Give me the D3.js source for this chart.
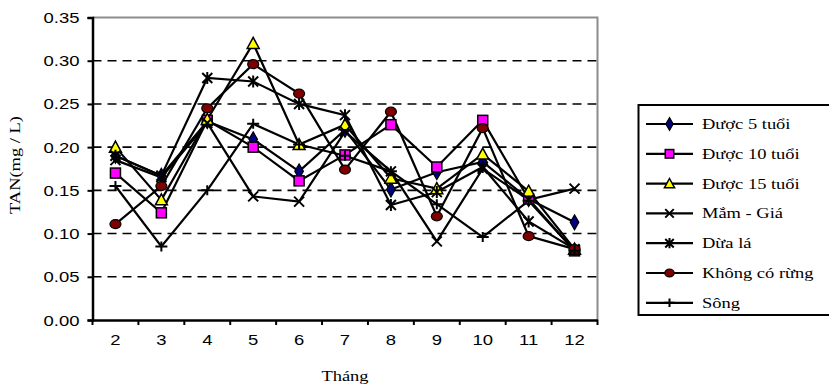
<!DOCTYPE html>
<html>
<head>
<meta charset="utf-8">
<script src="https://cdn.jsdelivr.net/npm/d3@7"></script>
<style>
  html, body { margin: 0; padding: 0; background: #fff; }
  svg { display: block; font-family: "Liberation Serif", "Times New Roman", serif; }
</style>
</head>
<body>
<svg id="chart" width="829" height="387"></svg>
<script>
// Months sampled
const months = ["2", "3", "4", "5", "6", "7", "8", "9", "10", "11", "12"];

// TAN (mg/L) per site
const duoc5  = [0.190, 0.167, 0.230, 0.209, 0.172, 0.220, 0.151, 0.171, 0.183, 0.140, 0.113];
const duoc10 = [0.170, 0.124, 0.231, 0.200, 0.161, 0.191, 0.226, 0.177, 0.231, 0.140, 0.080];
const duoc15 = [0.200, 0.139, 0.232, 0.320, 0.203, 0.226, 0.164, 0.152, 0.192, 0.149, 0.082];
const mamGia = [0.185, 0.165, 0.228, 0.143, 0.137, 0.218, 0.172, 0.091, 0.175, 0.139, 0.152];
const duaLa  = [0.190, 0.167, 0.280, 0.276, 0.250, 0.237, 0.133, 0.148, 0.177, 0.114, 0.082];
const khongRung = [0.111, 0.155, 0.245, 0.296, 0.262, 0.174, 0.241, 0.120, 0.222, 0.097, 0.082];
const song   = [0.155, 0.085, 0.150, 0.227, 0.203, 0.190, 0.172, 0.134, 0.096, 0.138, 0.080];

const seriesNames = ["Được 5 tuổi", "Được 10 tuổi", "Được 15 tuổi", "Mắm - Giá", "Dừa lá", "Không có rừng", "Sông"];
const seriesValues = [duoc5, duoc10, duoc15, mamGia, duaLa, khongRung, song];
const markerTypes = ["diamond", "square", "triangle", "cross", "star", "circle", "plus"];

const yTicks = [0, 0.05, 0.10, 0.15, 0.20, 0.25, 0.30, 0.35];
const yTitle = "TAN(mg / L)";
const xTitle = "Tháng";

const svg = d3.select("#chart");
const plot = { left: 92.5, right: 597.5, top: 17.5, bottom: 320 };
const FONT = 14;
const STRETCH = 1.32; // wide Times-style lettering

const x = d3.scaleBand().domain(months).range([plot.left, plot.right]).padding(0);
const y = d3.scaleLinear().domain([0, 0.35]).range([plot.bottom, plot.top]);

// text placed at (px, py), stretched horizontally in its own frame
function label(parent, px, py, str, anchor, rotate) {
  const g = parent.append("g")
    .attr("transform", `translate(${px},${py})` + (rotate ? ` rotate(${rotate})` : "") + ` scale(${STRETCH},1)`);
  return g.append("text").attr("text-anchor", anchor || "start")
    .attr("font-size", FONT).attr("fill", "#000").text(str);
}

// dashed gridlines
svg.append("g").selectAll("line")
  .data(yTicks.filter(t => t > 0 && t < 0.35))
  .join("line")
  .attr("x1", plot.left).attr("x2", plot.right)
  .attr("y1", d => y(d)).attr("y2", d => y(d))
  .attr("stroke", "#000").attr("stroke-width", 1.6)
  .attr("stroke-dasharray", "9,6");

// top / right frame
svg.append("path")
  .attr("d", `M${plot.left},${plot.top}H${plot.right}V${plot.bottom}`)
  .attr("fill", "none").attr("stroke", "#8c8c8c").attr("stroke-width", 2);

// y axis
const yAxis = d3.axisLeft(y).tickValues(yTicks).tickFormat(d3.format(".2f")).tickSize(5);
const gy = svg.append("g").attr("transform", `translate(${plot.left},0)`).call(yAxis);
gy.select(".domain").attr("stroke-width", 2.5);
gy.selectAll(".tick line").attr("stroke-width", 2);
gy.selectAll(".tick text").remove();
gy.selectAll(".tick").each(function (d) {
  label(d3.select(this), -13, 5, d3.format(".2f")(d), "end");
});

// x axis, ticks on the category boundaries
const gx = svg.append("g").attr("transform", `translate(0,${plot.bottom})`)
  .call(d3.axisBottom(x).tickSize(0));
gx.select(".domain").attr("stroke-width", 2.5);
gx.selectAll(".tick text").remove();
gx.selectAll(".tick").each(function (d) {
  label(d3.select(this), 0, 25, d, "middle");
});
gx.append("g").selectAll("line")
  .data(months.map(m => x(m)).concat([x(months[months.length - 1]) + x.bandwidth()]))
  .join("line")
  .attr("x1", d => d).attr("x2", d => d).attr("y1", 0).attr("y2", 5)
  .attr("stroke", "#000").attr("stroke-width", 2);

// axis titles
label(svg, 20, 165, yTitle, "middle", -90);
label(svg, 345, 381, xTitle, "middle");

// marker drawing
function drawMarker(g, type, s) {
  s = s || 1;
  switch (type) {
    case "diamond":
      g.append("path").attr("d", d3.symbol(d3.symbolDiamond, 64 * s * s))
        .attr("fill", "#000080").attr("stroke", "#000").attr("stroke-width", 1.2);
      break;
    case "square":
      g.append("rect").attr("x", -5 * s).attr("y", -5 * s).attr("width", 10 * s).attr("height", 10 * s)
        .attr("fill", "#ff00ff").attr("stroke", "#000").attr("stroke-width", 1.5);
      break;
    case "triangle":
      g.append("path").attr("d", `M0,${-6 * s}L${6 * s},${5 * s}L${-6 * s},${5 * s}Z`)
        .attr("fill", "#ffff00").attr("stroke", "#000").attr("stroke-width", 1.5);
      break;
    case "cross":
      g.append("path").attr("d", `M${-5 * s},${-5 * s}L${5 * s},${5 * s}M${5 * s},${-5 * s}L${-5 * s},${5 * s}`)
        .attr("stroke", "#000").attr("stroke-width", 2);
      break;
    case "star":
      g.append("path").attr("d", `M${-5 * s},${-5 * s}L${5 * s},${5 * s}M${5 * s},${-5 * s}L${-5 * s},${5 * s}M0,${-6 * s}V${6 * s}`)
        .attr("stroke", "#000").attr("stroke-width", 2);
      break;
    case "circle":
      g.append("ellipse").attr("rx", 5.5 * s).attr("ry", 4.5 * s)
        .attr("fill", "#800000").attr("stroke", "#000").attr("stroke-width", 1.2);
      break;
    case "plus":
      g.append("path").attr("d", `M${-6 * s},0H${6 * s}M0,${-5 * s}V${5 * s}`)
        .attr("stroke", "#000").attr("stroke-width", 2);
      break;
  }
}

const line = d3.line().x((d, i) => x(months[i]) + x.bandwidth() / 2).y(d => y(d));

seriesValues.forEach((vals) => {
  svg.append("path").datum(vals).attr("d", line)
    .attr("fill", "none").attr("stroke", "#000").attr("stroke-width", 2.2)
    .attr("stroke-linejoin", "miter");
});
seriesValues.forEach((vals, k) => {
  vals.forEach((v, i) => {
    const g = svg.append("g").attr("transform", `translate(${x(months[i]) + x.bandwidth() / 2},${y(v)})`);
    drawMarker(g, markerTypes[k], 1);
  });
});

// legend
const lg = svg.append("g");
lg.append("rect").attr("x", 638.5).attr("y", 105).attr("width", 200).attr("height", 210)
  .attr("fill", "#fff").attr("stroke", "#000").attr("stroke-width", 2);
seriesNames.forEach((name, k) => {
  const cy = 124 + k * 29.8;
  lg.append("line").attr("x1", 646).attr("x2", 693).attr("y1", cy).attr("y2", cy)
    .attr("stroke", "#000").attr("stroke-width", 2.2);
  const g = lg.append("g").attr("transform", `translate(669.5,${cy})`);
  drawMarker(g, markerTypes[k], 0.85);
  label(lg, 702, cy + 5, name, "start");
});
</script>
</body>
</html>
